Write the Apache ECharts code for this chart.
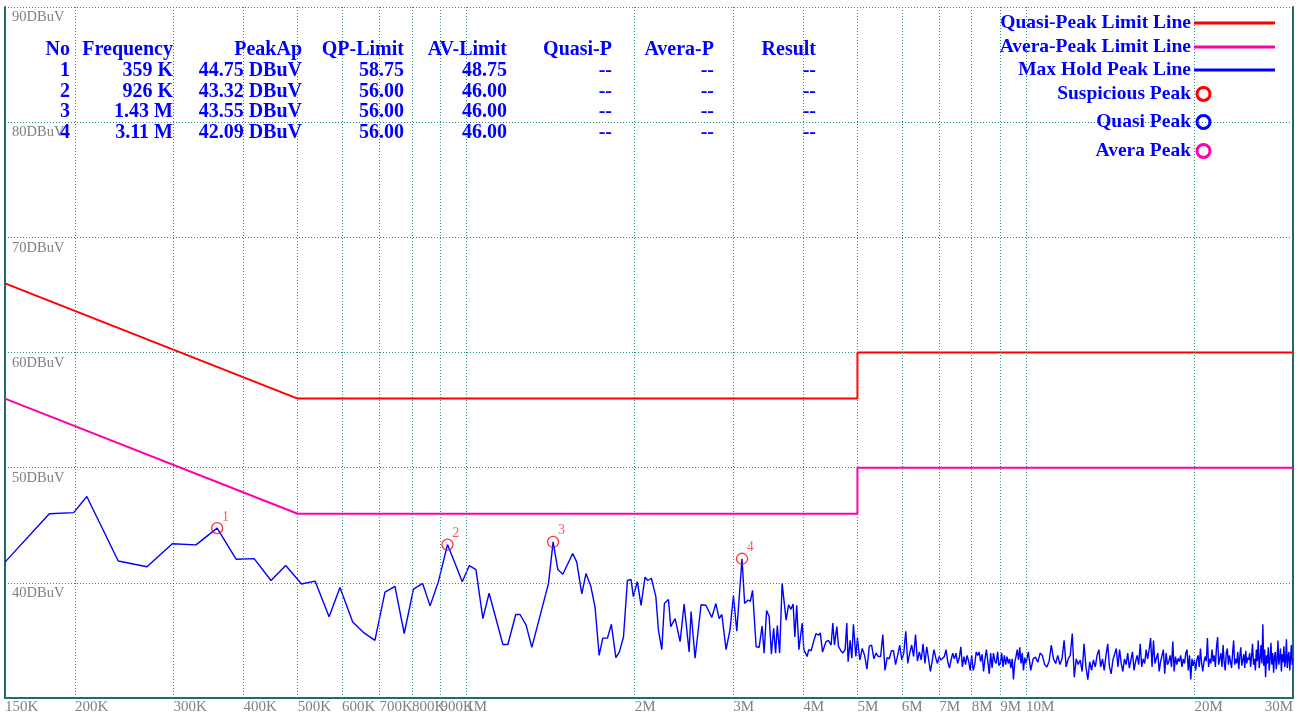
<!DOCTYPE html>
<html>
<head>
<meta charset="utf-8">
<script src="https://cdn.jsdelivr.net/npm/echarts@6/dist/echarts.min.js"></script>
<style>html,body{margin:0;padding:0;background:#fff}#c{width:1300px;height:715px}</style>
</head>
<body>
<div id="c"></div>
<script>
// ---------- data ----------
const xTickFreqs = [0.15,0.2,0.3,0.4,0.5,0.6,0.7,0.8,0.9,1,2,3,4,5,6,7,8,9,10,20,30];
const xTickLabels = ['150K','200K','300K','400K','500K','600K','700K','800K','900K','1M','2M','3M','4M','5M','6M','7M','8M','9M','10M','20M','30M'];
const yMin = 30, yMax = 90, yStep = 10;

const qpLimitFreq  = [0.15, 0.5, 5, 5, 30];
const qpLimitLevel = [66, 56, 56, 60, 60];
const avLimitFreq  = [0.15, 0.5, 5, 5, 30];
const avLimitLevel = [56, 46, 46, 50, 50];

const peakNos       = [1, 2, 3, 4];
const peakFreqMHz   = [0.359, 0.926, 1.43, 3.11];
const peakFreqText  = ['359 K', '926 K', '1.43 M', '3.11 M'];
const peakLevels    = [44.75, 43.32, 43.55, 42.09];
const peakQpLimit   = [58.75, 56.00, 56.00, 56.00];
const peakAvLimit   = [48.75, 46.00, 46.00, 46.00];
const peakQuasi     = ['--', '--', '--', '--'];
const peakAvera     = ['--', '--', '--', '--'];
const peakResult    = ['--', '--', '--', '--'];
const tableHeaders  = ['No', 'Frequency', 'PeakAp', 'QP-Limit', 'AV-Limit', 'Quasi-P', 'Avera-P', 'Result'];

const legendNames = ['Quasi-Peak Limit Line', 'Avera-Peak Limit Line', 'Max Hold Peak Line', 'Suspicious Peak', 'Quasi Peak', 'Avera Peak'];

// Max hold trace, 150 kHz - 5 MHz  [MHz, dBuV]
const traceLow = [
[0.150,41.8],[0.180,46.0],[0.199,46.1],[0.210,47.5],[0.239,41.9],[0.269,41.4],[0.2985,43.4],[0.329,43.3],[0.359,44.75],[0.388,42.05],
[0.418,42.1],[0.448,40.2],[0.476,41.5],[0.508,39.9],[0.537,40.15],[0.569,37.05],[0.595,39.6],[0.627,36.6],[0.655,35.7],[0.687,35.0],
[0.716,39.2],[0.746,39.7],[0.775,35.6],[0.805,39.45],[0.836,39.95],[0.862,38.0],[0.892,40.1],[0.926,43.32],
[0.953,41.8],[0.984,40.1],[1.013,41.5],[1.041,41.15],[1.071,36.9],[1.099,39.1],[1.163,34.65],[1.187,34.65],[1.226,37.25],[1.248,37.25],
[1.280,36.3],[1.310,34.4],[1.403,39.95],[1.430,43.55],[1.458,41.15],[1.488,40.75],[1.550,42.55],[1.576,41.8],[1.609,39.05],[1.637,40.8],
[1.670,39.7],[1.699,37.9],[1.728,33.7],[1.754,35.2],[1.788,35.2],[1.817,36.4],[1.851,33.5],[1.878,34.0],[1.910,35.3],[1.941,40.2],
[1.970,40.3],[1.989,38.8],[2.022,40.1],[2.053,38.05],[2.087,40.5],[2.111,40.2],[2.142,40.4],[2.182,38.8],[2.205,35.9],[2.236,34.2],
[2.260,38.2],[2.298,38.55],[2.320,36.2],[2.362,36.9],[2.411,34.9],[2.451,38.15],[2.502,34.0],[2.522,37.5],[2.564,33.45],[2.628,38.1],
[2.680,38.05],[2.747,37.0],[2.793,38.2],[2.831,36.9],[2.862,37.25],[2.913,34.2],[2.961,35.95],[3.002,38.9],[3.044,35.8],[3.110,42.09],
[3.144,38.2],[3.189,38.5],[3.219,38.4],[3.248,39.35],[3.296,34.45],[3.337,34.4],[3.378,36.25],[3.406,33.9],[3.441,37.6],[3.477,37.1],
[3.510,33.8],[3.542,36.05],[3.571,33.9],[3.596,36.3],[3.631,33.9],[3.668,39.95],[3.729,36.75],[3.767,38.1],[3.803,37.7],[3.838,38.15],
[3.865,35.3],[3.895,38.05],[3.930,34.2],[3.984,36.5],[4.010,34.2],[4.065,33.6],[4.092,34.2],[4.133,34.1],[4.175,34.9],[4.217,35.6],
[4.262,35.45],[4.292,35.65],[4.331,34.0],[4.395,34.9],[4.437,35.0],[4.487,34.6],[4.519,36.5],[4.549,34.6],[4.594,36.2],[4.624,34.5],
[4.670,34.1],[4.709,33.9],[4.753,34.2],[4.786,36.5],[4.812,33.15],[4.852,35.0],[4.886,33.45],[4.918,36.4],[4.967,33.6]
];

// Max hold trace, 5 - 10 MHz
const traceMid = [
[5.00,35.2],[5.05,33.3],[5.10,34.3],[5.15,33.7],[5.20,32.5],[5.25,34.5],[5.30,34.6],[5.35,33.4],[5.40,33.9],[5.45,33.6],
[5.50,33.6],[5.55,35.5],[5.60,32.4],[5.65,33.5],[5.70,33.4],[5.75,34.1],[5.80,34.1],[5.85,32.9],[5.90,33.7],[5.95,34.6],
[6.00,33.3],[6.05,33.9],[6.10,35.8],[6.15,33.0],[6.20,33.9],[6.25,34.6],[6.30,33.6],[6.35,35.5],[6.40,33.2],[6.45,34.0],
[6.50,33.3],[6.55,34.7],[6.60,33.0],[6.65,34.45],[6.70,34.4],[6.75,32.3],[6.80,33.2],[6.85,34.2],[6.90,33.5],[6.95,33.0],
[7.00,33.6],[7.05,33.3],[7.10,33.15],[7.15,33.6],[7.20,34.2],[7.25,33.15],[7.30,32.6],[7.35,33.3],[7.40,33.9],[7.45,33.4],
[7.50,33.9],[7.55,33.0],[7.60,33.45],[7.65,34.45],[7.70,32.7],[7.75,33.6],[7.80,32.9],[7.85,33.7],[7.90,33.2],[7.95,32.4],
[8.00,33.7],[8.05,32.4],[8.10,32.9],[8.15,34.0],[8.20,33.7],[8.25,34.0],[8.30,33.15],[8.35,33.8],[8.40,32.3],[8.45,33.4],
[8.50,34.2],[8.55,34.2],[8.60,32.1],[8.65,33.9],[8.70,32.6],[8.75,33.9],[8.80,33.2],[8.85,33.0],[8.90,34.0],[8.95,32.8],
[9.00,33.0],[9.05,33.9],[9.10,32.7],[9.15,33.7],[9.20,32.9],[9.25,33.6],[9.30,33.0],[9.35,33.4],[9.40,32.6],[9.45,33.4],
[9.50,31.6],[9.55,33.1],[9.60,33.6],[9.65,34.2],[9.70,33.3],[9.75,34.4],[9.80,33.0],[9.85,33.9],[9.90,32.4],[9.95,33.5],
[10.00,33.0]
];

// Max hold trace, 10 - 30 MHz
const traceHigh = [
[10.1,34.0],[10.2,32.4],[10.3,33.4],[10.4,33.55],[10.5,33.1],[10.6,33.9],[10.7,33.7],[10.8,32.9],[10.9,32.7],[11.0,33.2],
[11.1,34.6],[11.2,33.4],[11.3,33.0],[11.4,33.7],[11.5,32.9],[11.6,33.4],[11.7,35.0],[11.8,32.7],[11.9,33.4],[12.0,33.7],
[12.1,35.6],[12.2,31.8],[12.3,33.4],[12.4,32.9],[12.5,33.3],[12.6,32.3],[12.7,34.7],[12.8,32.7],[12.9,31.6],[13.0,33.15],
[13.1,32.4],[13.2,33.3],[13.3,32.7],[13.4,33.7],[13.5,34.2],[13.6,32.7],[13.7,33.4],[13.8,32.4],[13.9,33.7],[14.0,34.7],
[14.1,32.7],[14.2,32.1],[14.3,33.3],[14.4,33.4],[14.5,34.3],[14.6,32.7],[14.7,34.2],[14.8,33.0],[14.9,32.3],[15.0,33.4],
[15.1,32.9],[15.2,33.9],[15.3,32.6],[15.4,33.3],[15.5,34.0],[15.6,32.4],[15.7,33.15],[15.8,33.7],[15.9,32.9],[16.0,34.7],
[16.1,32.7],[16.2,33.4],[16.3,33.0],[16.4,34.2],[16.5,33.4],[16.6,34.2],[16.7,35.2],[16.8,32.7],[16.9,35.0],[17.0,33.0],
[17.1,32.9],[17.2,33.9],[17.3,32.3],[17.4,33.15],[17.5,33.2],[17.6,34.2],[17.7,32.1],[17.8,33.9],[17.9,32.9],[18.0,33.15],
[18.1,33.7],[18.2,32.7],[18.3,34.9],[18.4,32.3],[18.5,33.6],[18.6,32.9],[18.7,33.45],[18.8,33.15],[18.9,33.7],[19.0,32.7],
[19.1,33.4],[19.2,33.0],[19.3,33.9],[19.4,34.2],[19.5,32.4],[19.6,33.7],[19.7,31.6],[19.8,33.4],[19.9,32.8],[20.0,33.3],
[20.1,32.4],[20.2,33.3],[20.3,33.7],[20.4,32.7],[20.5,34.3],[20.6,33.0],[20.7,32.3],[20.8,33.15],[20.9,33.6],[21.0,33.2],
[21.1,35.2],[21.2,32.7],[21.3,33.4],[21.4,33.0],[21.5,34.2],[21.6,33.15],[21.7,33.7],[21.8,32.7],[21.9,34.4],[22.0,35.3],
[22.1,32.9],[22.2,33.4],[22.3,33.9],[22.4,32.7],[22.5,34.6],[22.6,33.15],[22.7,32.4],[22.8,33.9],[22.9,34.3],[23.0,32.9],
[23.1,33.7],[23.2,33.15],[23.3,32.6],[23.4,33.9],[23.5,35.0],[23.6,32.9],[23.7,33.4],[23.8,33.0],[23.9,34.0],[24.0,32.5],
[24.1,33.6],[24.2,34.4],[24.3,32.8],[24.4,33.3],[24.5,33.8],[24.6,32.6],[24.7,34.1],[24.8,33.0],[24.9,33.5],[25.0,33.3],
[25.1,33.9],[25.2,32.7],[25.3,33.6],[25.4,34.7],[25.5,32.9],[25.6,33.4],[25.7,32.4],[25.8,34.2],[25.9,33.2],[26.0,35.0],
[26.1,32.6],[26.2,33.4],[26.3,34.6],[26.4,33.0],[26.5,36.4],[26.6,32.8],[26.7,34.2],[26.8,31.8],[26.9,33.7],[27.0,33.0],
[27.1,34.4],[27.2,32.4],[27.3,33.4],[27.4,34.8],[27.5,32.9],[27.6,33.9],[27.7,32.2],[27.8,33.6],[27.9,34.0],[28.0,32.5],
[28.1,33.3],[28.2,35.0],[28.3,32.9],[28.4,33.5],[28.5,34.3],[28.6,32.3],[28.7,33.8],[28.8,33.1],[28.9,34.5],[29.0,32.7],
[29.1,33.2],[29.2,35.1],[29.3,32.6],[29.4,33.6],[29.5,34.0],[29.6,32.4],[29.7,33.5],[29.8,34.6],[29.9,32.9],[30.0,33.4]
];

// ---------- styling ----------
const SERIF = '"Liberation Serif", "Times New Roman", serif';
const GRID_C = '#2b8c8c';
const FRAME_C = '#1f6b6b';
const BLUE = '#0000ff';
const RED = '#ff0000';
const PINK = '#ff00aa';

const zipPairs = (xs, ys) => xs.map((x, i) => [x, ys[i]]);
const traceData = traceLow.concat(traceMid, traceHigh);

const lastTick = xTickFreqs.length - 1;
const gridMarks = xTickFreqs.map((f, i) => ({
  xAxis: f,
  lineStyle: (i === 0 || i === lastTick) ? { color: 'rgba(0,0,0,0)' } : {},
  label: { formatter: xTickLabels[i], align: i === lastTick ? 'right' : 'left' }
}));

// table text
const colRight = [70, 173, 302, 404, 507, 612, 714, 816];
const rowY = [50, 71, 91.5, 112, 132.5];
const tableFont = 'bold 20px ' + SERIF;
const legendFont = 'bold 19.5px ' + SERIF;
const graphics = [];
function addText(t, x, y, align, font) {
  graphics.push({ type: 'text', z: 100, style: { text: t, x: x, y: y, align: align, verticalAlign: 'middle', font: font, fill: BLUE } });
}
tableHeaders.forEach((h, c) => addText(h, colRight[c], rowY[0], 'right', tableFont));
peakNos.forEach((n, r) => {
  const row = [String(n), peakFreqText[r], peakLevels[r].toFixed(2) + ' DBuV', peakQpLimit[r].toFixed(2), peakAvLimit[r].toFixed(2), peakQuasi[r], peakAvera[r], peakResult[r]];
  row.forEach((t, c) => addText(t, colRight[c], rowY[r + 1], 'right', tableFont));
});
// legend
const legY = [23, 47, 70, 94, 122, 151];
const legColors = [RED, PINK, BLUE, RED, BLUE, PINK];
legendNames.forEach((n, i) => {
  addText(n, 1191, legY[i], 'right', legendFont);
  if (i < 3) {
    graphics.push({ type: 'line', z: 100, shape: { x1: 1194, y1: legY[i], x2: 1275, y2: legY[i] }, style: { stroke: legColors[i], lineWidth: 3 } });
  } else {
    graphics.push({ type: 'circle', z: 100, shape: { cx: 1203.5, cy: legY[i], r: 6.5 }, style: { fill: 'none', stroke: legColors[i], lineWidth: 3 } });
  }
});

const chart = echarts.init(document.getElementById('c'), null, { renderer: 'canvas' });
chart.setOption({
  animation: false,
  backgroundColor: '#ffffff',
  grid: { left: 5, right: 7, top: 7, bottom: 17, containLabel: false },
  xAxis: {
    type: 'log', logBase: 10, min: 0.15, max: 30,
    axisLine: { show: true, onZero: false, lineStyle: { color: FRAME_C, width: 2 } },
    axisTick: { show: false }, axisLabel: { show: false }, splitLine: { show: false }, minorSplitLine: { show: false }
  },
  yAxis: [{
    type: 'value', min: yMin, max: yMax, interval: yStep,
    axisLine: { show: true, lineStyle: { color: FRAME_C, width: 2 } },
    axisTick: { show: false },
    axisLabel: {
      inside: true, margin: 7, verticalAlign: 'top', padding: [3, 0, 0, 0],
      color: '#808080', fontFamily: SERIF, fontSize: 14.5,
      formatter: v => (v === yMin ? '' : v + 'DBuV')
    },
    splitLine: { show: true, lineStyle: { color: GRID_C, type: [1, 2], width: 1 } }
  }, {
    type: 'value', min: yMin, max: yMax, interval: yStep, position: 'right',
    axisLine: { show: true, lineStyle: { color: FRAME_C, width: 2 } },
    axisTick: { show: false }, axisLabel: { show: false }, splitLine: { show: false }
  }],
  graphic: graphics,
  series: [
    {
      name: legendNames[0], type: 'line', data: zipPairs(qpLimitFreq, qpLimitLevel),
      showSymbol: false, symbol: 'none', lineStyle: { color: RED, width: 2 }, z: 3,
      markLine: {
        silent: true, symbol: ['none', 'none'], animation: false,
        lineStyle: { color: GRID_C, type: [1, 2], width: 1 },
        label: { show: true, position: 'start', distance: 2, color: '#808080', fontFamily: SERIF, fontSize: 15 },
        emphasis: { disabled: true },
        data: gridMarks
      }
    },
    {
      name: legendNames[1], type: 'line', data: zipPairs(avLimitFreq, avLimitLevel),
      showSymbol: false, symbol: 'none', lineStyle: { color: PINK, width: 2 }, z: 3
    },
    {
      name: legendNames[2], type: 'line', data: traceData,
      showSymbol: false, symbol: 'none', lineStyle: { color: BLUE, width: 1.4 }, z: 4
    },
    {
      name: legendNames[3], type: 'scatter', data: zipPairs(peakFreqMHz, peakLevels),
      symbol: 'circle', symbolSize: 11, z: 5,
      itemStyle: { color: 'rgba(0,0,0,0)', borderColor: RED, borderWidth: 1.3 },
      label: { show: true, position: [11, -12], formatter: p => String(peakNos[p.dataIndex]), color: '#ff3333', fontFamily: SERIF, fontSize: 14 }
    }
  ]
});
</script>
</body>
</html>
